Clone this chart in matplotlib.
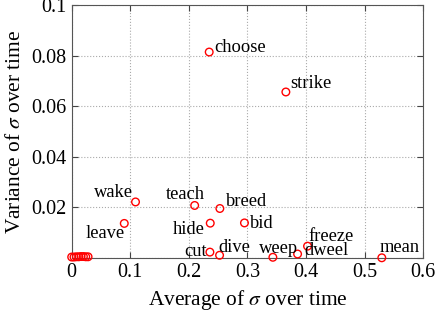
import matplotlib
matplotlib.use("Agg")
import matplotlib.pyplot as plt

plt.rcParams['font.family'] = ['Liberation Serif', 'DejaVu Serif']
plt.rcParams['mathtext.fontset'] = 'stix'

words = ["choose", "strike", "wake", "teach", "breed", "leave", "hide", "bid",
         "cut", "dive", "weep", "dweel", "freeze", "mean"]
avg = [0.2348, 0.3657, 0.109, 0.210, 0.253, 0.0898, 0.2366, 0.295,
       0.236, 0.2525, 0.3435, 0.3857, 0.4027, 0.5295]
var = [0.0814, 0.0656, 0.0221, 0.0207, 0.0195, 0.0136, 0.0137, 0.0138,
       0.00225, 0.0010, 0.0002, 0.0015, 0.0046, 0.0]
# unlabeled cluster near origin
cl_avg = [0.0, 0.004, 0.008, 0.012, 0.016, 0.020, 0.024, 0.028]
cl_var = [0.0003, 0.0003, 0.0004, 0.0004, 0.0005, 0.0005, 0.0004, 0.0004]

# label placement: (dx px, dy px, ha) with baseline alignment
offs = {"choose": (5, 0, 'left'), "strike": (4, 3.7, 'left'),
        "wake": (-3, 5, 'right'), "teach": (10, 6, 'right'),
        "breed": (5.7, 2.3, 'left'), "leave": (0.7, -15, 'right'),
        "hide": (-5.3, -11.3, 'right'), "bid": (6, -4.6, 'left'),
        "cut": (-3.3, -4, 'right'), "dive": (-0.7, 3.3, 'left'),
        "weep": (-14, 4, 'left'), "dweel": (6.6, -1, 'left'),
        "freeze": (1.3, 5.3, 'left'), "mean": (-2, 6, 'left')}

fig = plt.figure(figsize=(4.36, 3.14), dpi=100)
ax = fig.add_axes([0.1644, 0.179, 0.806, 0.805])

ax.scatter(cl_avg, cl_var, s=30, facecolors='none', edgecolors='red', linewidths=1, zorder=3, clip_on=False)
ax.scatter(avg, var, s=30, facecolors='none', edgecolors='red', linewidths=1, zorder=3, clip_on=False)
for w, x, y in zip(words, avg, var):
    dx, dy, ha = offs[w]
    ax.annotate(w, (x, y), xytext=(dx * 0.72, dy * 0.72), textcoords='offset points',
                ha=ha, va='baseline', fontsize=13.3)

ax.set_xlim(0, 0.6)
ax.set_ylim(0, 0.1)
ax.set_xticks([0, 0.1, 0.2, 0.3, 0.4, 0.5, 0.6])
ax.set_xticklabels(["0", "0.1", "0.2", "0.3", "0.4", "0.5", "0.6"])
ax.set_yticks([0, 0.02, 0.04, 0.06, 0.08, 0.1])
ax.set_yticklabels(["", "0.02", "0.04", "0.06", "0.08", "0.1"])
ax.tick_params(direction='in', top=True, right=True, labelsize=14.5, length=4,
               color='#444444', pad=4)
ax.grid(True, linestyle=':', color='#aaaaaa', linewidth=0.8)
for s in ax.spines.values():
    s.set_color('#555555')
ax.set_xlabel(r"Average of $\sigma$ over time", fontsize=15.4, labelpad=4)
ax.set_ylabel(r"Variance of $\sigma$ over time", fontsize=15.4, labelpad=4)

fig.savefig("out.png", dpi=100)
